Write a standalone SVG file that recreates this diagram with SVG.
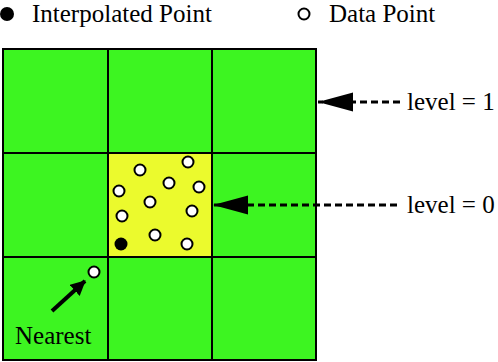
<svg xmlns="http://www.w3.org/2000/svg" width="498" height="362" viewBox="0 0 498 362">
<style>
.cell{fill:#3df521;stroke:#000;stroke-width:2}
.center{fill:#ebfa2d;stroke:#000;stroke-width:2}
.dp{fill:#fff;stroke:#000;stroke-width:2}
.ip{fill:#000}
.t{font-size:25px;fill:#000}
.dash{stroke:#000;stroke-width:3;stroke-dasharray:7 4;fill:none}
.solid{stroke:#000;stroke-width:4;fill:none}
</style>
<defs>
<marker id="bighead" markerUnits="userSpaceOnUse" markerWidth="36" markerHeight="20" refX="35" refY="9.5" orient="auto" viewBox="0 0 36 20">
<path d="M0,0 L35,9.5 L0,19 z" fill="#000"/>
</marker>
<marker id="smallhead" markerUnits="userSpaceOnUse" markerWidth="16" markerHeight="16" refX="14" refY="7.5" orient="auto" viewBox="0 0 16 16">
<path d="M0,0 L15,7.5 L0,15 z" fill="#000"/>
</marker>
</defs>
<g id="legend" font-family="Liberation Serif, Times New Roman, DejaVu Serif, serif">
<circle class="ip" cx="7" cy="14" r="7"/>
<text class="t" x="32" y="22">Interpolated Point</text>
<circle class="dp" cx="304" cy="14" r="5.5"/>
<text class="t" x="329" y="22">Data Point</text>
</g>
<g id="grid">
<rect id="c00" class="cell" x="3" y="49" width="105" height="104"/>
<rect id="c01" class="cell" x="108" y="49" width="104" height="104"/>
<rect id="c02" class="cell" x="212" y="49" width="104" height="104"/>
<rect id="c10" class="cell" x="3" y="153" width="105" height="104"/>
<rect id="c11" class="center" x="108" y="153" width="104" height="104"/>
<rect id="c12" class="cell" x="212" y="153" width="104" height="104"/>
<rect id="c20" class="cell" x="3" y="257" width="105" height="103"/>
<rect id="c21" class="cell" x="108" y="257" width="104" height="103"/>
<rect id="c22" class="cell" x="212" y="257" width="104" height="103"/>
</g>
<g id="points">
<circle class="dp" cx="140" cy="170" r="5.5"/>
<circle class="dp" cx="188" cy="162" r="5.5"/>
<circle class="dp" cx="169" cy="183" r="5.5"/>
<circle class="dp" cx="119" cy="191" r="5.5"/>
<circle class="dp" cx="199" cy="187" r="5.5"/>
<circle class="dp" cx="150" cy="202" r="5.5"/>
<circle class="dp" cx="122" cy="216" r="5.5"/>
<circle class="dp" cx="192" cy="211" r="5.5"/>
<circle class="dp" cx="155" cy="235" r="5.5"/>
<circle class="dp" cx="187" cy="244" r="5.5"/>
<circle class="ip" cx="121" cy="244" r="6.5"/>
<circle class="dp" cx="94" cy="272" r="5.5"/>
</g>
<g id="connectors">
<line class="dash" x1="400" y1="102" x2="318" y2="102" marker-end="url(#bighead)"/>
<line class="dash" x1="397" y1="205" x2="213" y2="205" marker-end="url(#bighead)"/>
<line class="solid" x1="52" y1="311" x2="85" y2="281" marker-end="url(#smallhead)"/>
</g>
<g id="labels" font-family="Liberation Serif, Times New Roman, DejaVu Serif, serif">
<text class="t" x="407" y="110">level = 1</text>
<text class="t" x="407" y="213">level = 0</text>
<text class="t" x="15" y="344">Nearest</text>
</g>
</svg>
